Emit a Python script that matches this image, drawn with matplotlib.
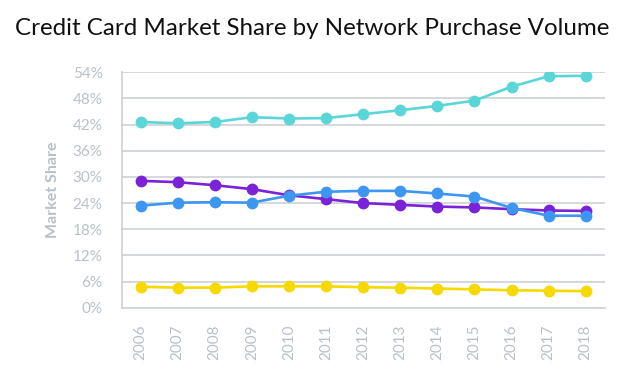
import matplotlib
matplotlib.use("Agg")
import matplotlib.pyplot as plt
from matplotlib.ticker import FuncFormatter

years = [2006, 2007, 2008, 2009, 2010, 2011, 2012, 2013, 2014, 2015, 2016, 2017, 2018]
visa = [42.6, 42.3, 42.6, 43.7, 43.4, 43.5, 44.4, 45.3, 46.3, 47.5, 50.7, 53.1, 53.2]
amex = [29.1, 28.8, 28.1, 27.2, 25.8, 24.9, 24.0, 23.6, 23.2, 23.0, 22.6, 22.3, 22.2]
mastercard = [23.4, 24.1, 24.2, 24.1, 25.7, 26.6, 26.8, 26.8, 26.2, 25.5, 22.9, 21.1, 21.1]
discover = [4.8, 4.6, 4.6, 4.9, 4.9, 4.9, 4.7, 4.6, 4.4, 4.2, 4.0, 3.9, 3.8]
yticks = [0, 6, 12, 18, 24, 30, 36, 42, 48, 54]

plt.rcParams['font.family'] = ['Lato', 'DejaVu Sans']

fig = plt.figure(figsize=(6.24, 3.84), dpi=100)
ax = fig.add_axes([0.1955, 0.1987, 0.9696 - 0.1955, 0.8117 - 0.1987])

series = [
    (visa, '#5AD6D8'),
    (amex, '#7A22D8'),
    (mastercard, '#3D97F2'),
    (discover, '#F7D900'),
]
for vals, col in series:
    ax.plot(years, vals, color=col, lw=1.9, marker='o', ms=8.5,
            markeredgewidth=0, zorder=3)

ax.set_xlim(2005.5, 2018.52)
ax.set_ylim(0, 54)
ax.set_yticks(yticks)
ax.yaxis.set_major_formatter(FuncFormatter(lambda v, p: f"{int(v)}%"))
ax.set_xticks(years)
ax.set_xticklabels([str(y) for y in years], rotation=90)

grey = '#b9c1c8'
ax.grid(axis='y', color='#cdd1d5', lw=1.2, zorder=0)
ax.grid(axis='x', visible=False)
for s in ['top', 'right']:
    ax.spines[s].set_visible(False)
for s in ['left', 'bottom']:
    ax.spines[s].set_color('#cdd1d5')
    ax.spines[s].set_linewidth(1.2)
ax.tick_params(axis='both', length=0, colors=grey, labelsize=11)
ax.tick_params(axis='y', pad=14)
ax.tick_params(axis='x', pad=12)

ax.set_ylabel('Market Share', color=grey, fontsize=11.5, fontweight='bold', labelpad=9)

fig.text(0.5, 0.925, 'Credit Card Market Share by Network Purchase Volume',
         ha='center', va='center', fontsize=17.4, color='#111111')

fig.savefig('out.png', dpi=100, facecolor='white')
